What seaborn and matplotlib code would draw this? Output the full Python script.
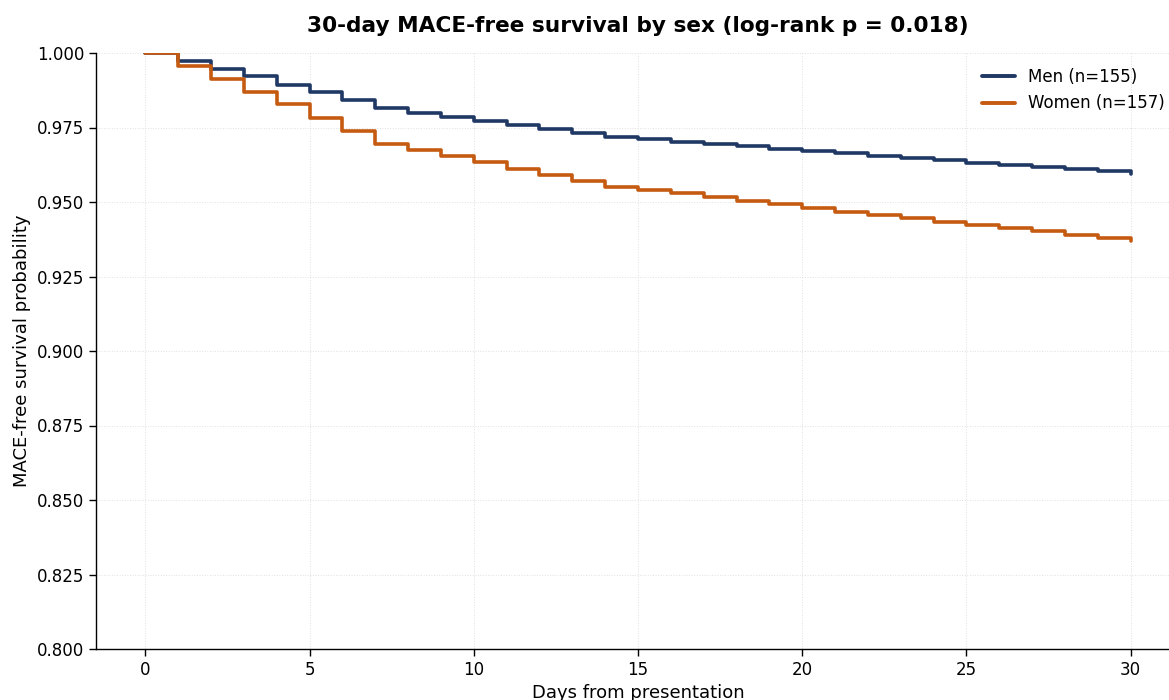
import numpy as np
import pandas as pd
import matplotlib
matplotlib.use("Agg")
import matplotlib.pyplot as plt
import seaborn as sns

days = list(range(0, 31))
men_surv = [1.0000, 0.9973, 0.9946, 0.9923, 0.9893, 0.9869, 0.9842, 0.9815, 0.9799, 0.9785,
            0.9772, 0.9758, 0.9745, 0.9732, 0.9718, 0.9711, 0.9701, 0.9695, 0.9688, 0.9678,
            0.9671, 0.9664, 0.9654, 0.9648, 0.9641, 0.9631, 0.9624, 0.9617, 0.9611, 0.9604,
            0.9594]
women_surv = [1.0000, 0.9956, 0.9913, 0.9869, 0.9829, 0.9782, 0.9738, 0.9695, 0.9674, 0.9654,
              0.9634, 0.9611, 0.9591, 0.9570, 0.9550, 0.9540, 0.9530, 0.9517, 0.9503, 0.9493,
              0.9480, 0.9466, 0.9456, 0.9446, 0.9433, 0.9423, 0.9413, 0.9403, 0.9389, 0.9379,
              0.9369]
group_labels = ["Men (n=155)", "Women (n=157)"]
colors = ["#1f3864", "#c55a11"]

df = pd.DataFrame({
    "day": days * 2,
    "surv": men_surv + women_surv,
    "group": [group_labels[0]] * len(days) + [group_labels[1]] * len(days),
})

sns.set_style("white")
plt.rcParams['font.family'] = ['DejaVu Sans']
plt.rcParams['text.color'] = 'black'
plt.rcParams['axes.labelcolor'] = 'black'
plt.rcParams['xtick.color'] = 'black'
plt.rcParams['ytick.color'] = 'black'

fig = plt.figure(figsize=(11.69, 7.0), dpi=100)
ax = fig.add_axes([96 / 1169, 1 - 649 / 700, (1180 - 96) / 1169, (649 - 53) / 700])

sns.lineplot(data=df, x="day", y="surv", hue="group", palette=colors,
             drawstyle="steps-post", linewidth=2.6, ax=ax, estimator=None)

ax.set_xlim(-1.5, 31.5)
ax.set_ylim(0.8, 1.0)
ax.set_xticks([0, 5, 10, 15, 20, 25, 30])
ax.set_yticks(np.arange(0.8, 1.0001, 0.025))
ax.yaxis.set_major_formatter(matplotlib.ticker.FormatStrFormatter('%.3f'))
ax.tick_params(axis='both', labelsize=12, length=5, width=1, direction='out',
               bottom=True, left=True, colors='black', labelcolor='black')
ax.grid(True, linestyle=':', color='#e0e0e0', linewidth=0.7)
for s in ['top', 'right']:
    ax.spines[s].set_visible(False)
for s in ['left', 'bottom']:
    ax.spines[s].set_color('black')
    ax.spines[s].set_linewidth(1.0)

ax.set_xlabel("Days from presentation", fontsize=13, color='black')
ax.set_ylabel("MACE-free survival probability", fontsize=13, color='black')
ax.set_title("30-day MACE-free survival by sex (log-rank p = 0.018)",
             fontsize=15.6, fontweight='bold', pad=15, color='black')

leg = ax.legend(loc='upper right', frameon=False, fontsize=12, handlelength=2.0)
leg.set_title(None)
for t in leg.get_texts():
    t.set_color('black')
for l in leg.get_lines():
    l.set_linewidth(2.8)

fig.savefig("out.png", dpi=100)
